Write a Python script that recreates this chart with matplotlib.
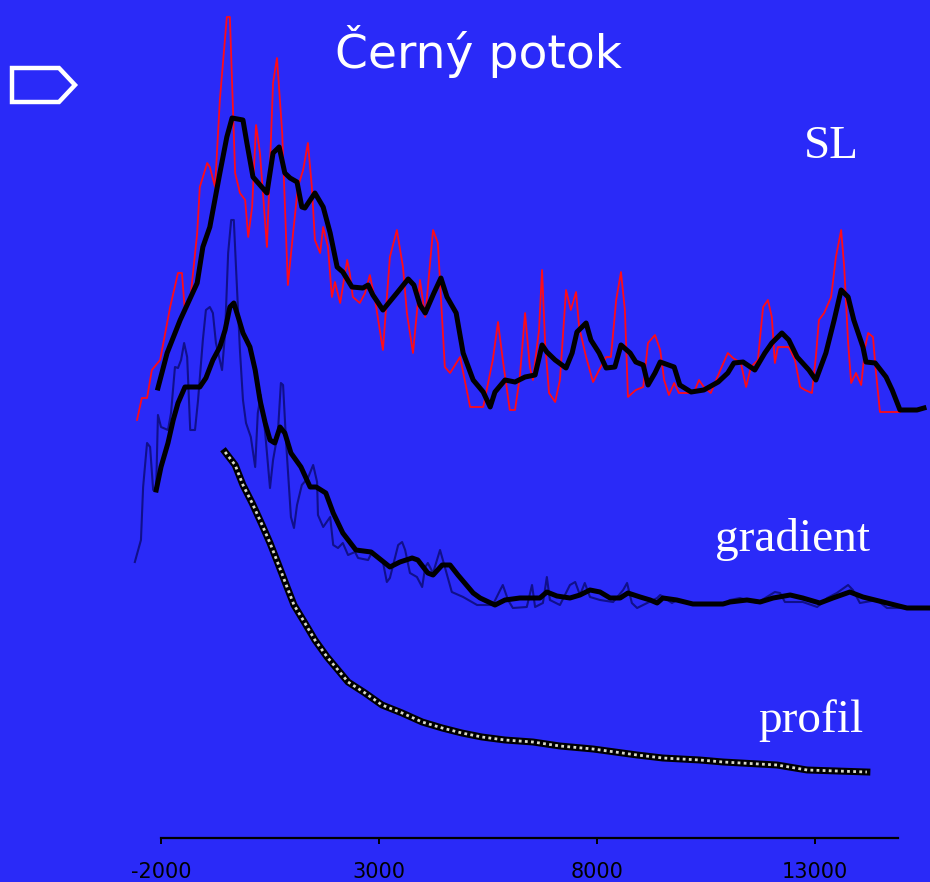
import matplotlib
matplotlib.use("Agg")
import matplotlib.pyplot as plt
from matplotlib.patches import Polygon

# distance along stream (m) and relative values (arbitrary units, offset per curve)
sl_x = [-2550, -2440, -2320, -2210, -2020, -1790, -1610, -1520, -1450, -1330,
        -1170, -1110, -940, -880, -760, -650, -490, -420, -300, -190,
        -70, 0, 90, 180, 270, 430, 570, 660, 780, 910,
        1030, 1140, 1260, 1370, 1460, 1530, 1650, 1720, 1830, 1920,
        1990, 2110, 2270, 2330, 2400, 2560, 2680, 2790, 2910, 3090,
        3250, 3410, 3550, 3640, 3780, 3940, 4060, 4240, 4350, 4510,
        4630, 4860, 5090, 5390, 5610, 5730, 5840, 6000, 6120, 6230,
        6350, 6460, 6530, 6670, 6740, 6810, 6900, 7040, 7150, 7290,
        7400, 7520, 7590, 7750, 7910, 8050, 8210, 8320, 8440, 8550,
        8640, 8710, 8890, 9060, 9170, 9330, 9450, 9540, 9650, 9770,
        9880, 10220, 10340, 10450, 10610, 10800, 11000, 11120, 11300, 11420,
        11530, 11690, 11810, 11920, 12010, 12080, 12150, 12400, 12540, 12660,
        12770, 12930, 13020, 13090, 13210, 13370, 13480, 13600, 13670, 13760,
        13830, 13940, 14060, 14150, 14220, 14330, 14400, 14490, 14950]
sl_y = [418, 440, 440, 468, 478, 531, 565, 565, 526, 538,
        605, 651, 675, 671, 651, 738, 821, 821, 665, 645,
        638, 601, 631, 713, 685, 591, 755, 780, 705, 553,
        605, 651, 668, 695, 651, 598, 585, 611, 591, 541,
        556, 535, 578, 565, 541, 535, 545, 563, 538, 488,
        581, 608, 571, 525, 485, 558, 521, 608, 595, 471,
        465, 481, 431, 431, 478, 516, 478, 428, 428, 461,
        525, 471, 458, 508, 568, 495, 445, 436, 458, 548,
        528, 546, 511, 481, 456, 468, 481, 481, 538, 566,
        528, 441, 448, 451, 495, 503, 488, 458, 443, 455,
        445, 445, 458, 451, 445, 465, 485, 480, 475, 451,
        471, 478, 531, 538, 521, 475, 491, 491, 478, 451,
        448, 445, 481, 518, 525, 541, 581, 608, 571, 495,
        455, 465, 453, 491, 505, 501, 465, 426, 426]

sl_smooth_x = [-2070, -1860, -1560, -1170, -1040, -880, -650, -490, -370, -120,
               -30, 110, 270, 430, 570, 710, 840, 960, 1120, 1230,
               1300, 1530, 1720, 1880, 2040, 2170, 2380, 2630, 2750, 2860,
               3090, 3410, 3670, 3800, 3940, 4060, 4260, 4420, 4560, 4770,
               4930, 5160, 5390, 5550, 5660, 5890, 6120, 6350, 6580, 6740,
               6850, 7040, 7290, 7430, 7540, 7750, 7860, 8050, 8210, 8410,
               8550, 8760, 8890, 9060, 9170, 9330, 9450, 9770, 9900, 10160,
               10450, 10780, 11000, 11140, 11350, 11620, 11850, 12010, 12240, 12400,
               12590, 12860, 13020, 13250, 13440, 13600, 13760, 13890, 14100, 14170,
               14380, 14630, 14770, 14950, 15340, 15500]
sl_smooth_y = [450, 485, 518, 555, 591, 611, 665, 701, 720, 718,
               695, 661, 653, 645, 685, 691, 665, 660, 656, 631,
               630, 645, 631, 605, 571, 566, 551, 550, 553, 543,
               528, 545, 559, 553, 533, 525, 545, 560, 541, 525,
               485, 458, 446, 431, 446, 458, 456, 461, 463, 493,
               486, 478, 470, 485, 506, 515, 498, 485, 470, 471,
               493, 485, 476, 473, 453, 465, 476, 471, 453, 446,
               448, 456, 465, 475, 476, 468, 485, 495, 505, 498,
               481, 468, 458, 485, 518, 548, 541, 518, 491, 476,
               475, 461, 448, 428, 428, 430]

grad_x = [-2600, -2460, -2410, -2320, -2250, -2180, -2110, -2070, -2000, -1840,
          -1770, -1680, -1610, -1540, -1470, -1400, -1330, -1220, -1150, -1040,
          -970, -880, -810, -740, -600, -530, -460, -390, -330, -280,
          -190, -120, -50, 60, 160, 220, 290, 390, 500, 570,
          680, 750, 800, 870, 980, 1050, 1120, 1230, 1370, 1490,
          1580, 1600, 1720, 1880, 1950, 2060, 2170, 2290, 2450, 2520,
          2750, 2840, 3090, 3180, 3250, 3440, 3530, 3600, 3710, 3870,
          3990, 4060, 4120, 4240, 4330, 4400, 4510, 4670, 4930, 5250,
          5610, 5780, 5840, 5960, 6070, 6390, 6510, 6580, 6760, 6850,
          6920, 7150, 7380, 7500, 7610, 7720, 7840, 8070, 8370, 8600,
          8690, 8800, 8920, 9150, 9380, 9450, 9720, 9830, 10200, 10890,
          11050, 11280, 11670, 12080, 12200, 12310, 12720, 13050, 13280, 13500,
          13760, 13870, 14030, 14420, 14650, 15640]
grad_y = [276, 298, 351, 395, 391, 348, 351, 423, 411, 408,
          425, 471, 470, 478, 495, 481, 408, 408, 438, 498,
          528, 531, 525, 495, 468, 505, 585, 618, 618, 571,
          488, 438, 415, 401, 371, 425, 443, 405, 350, 378,
          405, 455, 453, 395, 321, 310, 333, 353, 360, 373,
          356, 323, 311, 321, 293, 290, 295, 283, 286, 280,
          278, 286, 276, 256, 260, 293, 296, 288, 265, 261,
          251, 271, 275, 265, 278, 288, 271, 246, 241, 233,
          233, 248, 253, 238, 230, 231, 253, 231, 235, 261,
          238, 233, 253, 256, 243, 255, 241, 238, 236, 248,
          255, 235, 230, 235, 240, 243, 235, 238, 234, 234,
          238, 240, 235, 246, 245, 236, 236, 231, 240, 245,
          253, 248, 235, 238, 230, 230]

grad_smooth_x = [-2110, -2000, -1840, -1720, -1610, -1450, -1110, -970, -810, -650,
                 -530, -420, -330, -230, -120, 40, 160, 270, 390, 500,
                 610, 730, 840, 980, 1210, 1420, 1560, 1780, 1950, 2170,
                 2470, 2820, 3050, 3250, 3480, 3760, 3890, 4120, 4240, 4450,
                 4630, 4810, 5160, 5320, 5660, 5890, 6230, 6690, 6850, 7080,
                 7380, 7610, 7840, 8070, 8300, 8530, 8710, 8990, 9220, 9380,
                 9510, 9830, 10200, 10890, 11050, 11440, 11740, 12040, 12430, 12720,
                 13110, 13410, 13800, 14100, 14560, 15110, 15640]
grad_smooth_y = [348, 371, 395, 418, 435, 451, 451, 460, 478, 491,
                 508, 531, 535, 521, 505, 491, 468, 438, 415, 398,
                 395, 411, 405, 385, 371, 351, 351, 345, 325, 305,
                 288, 286, 278, 271, 276, 280, 278, 265, 263, 273,
                 273, 263, 245, 240, 233, 238, 240, 240, 246, 242,
                 240, 243, 248, 246, 240, 240, 245, 241, 238, 235,
                 240, 238, 234, 234, 236, 238, 236, 240, 243, 240,
                 235, 240, 246, 241, 236, 230, 230]

prof_x = [-530, -300, -120, 90, 320, 500, 680, 890, 1050, 1300,
          1530, 1810, 2060, 2290, 2680, 3070, 3530, 3990, 4450, 4900,
          5360, 5890, 6530, 7150, 7910, 8920, 9510, 10360, 10890, 12130,
          12820, 14190]
prof_y = [386, 373, 353, 335, 313, 295, 275, 251, 233, 215,
          198, 181, 168, 156, 145, 133, 125, 116, 110, 105,
          101, 98, 96, 92, 89, 83, 80, 78, 76, 73,
          68, 66]

xticks = [-2000, 3000, 8000, 13000]
bg = '#2a2af8'

fig = plt.figure(figsize=(9.3, 8.82), dpi=100, facecolor=bg)
ax = fig.add_axes([161 / 930, 44 / 882, 737 / 930, 838 / 882])
ax.set_facecolor(bg)
ax.set_xlim(-2000, 14904)
ax.set_ylim(0, 838)

ax.plot(sl_x, sl_y, color='#ff0a18', lw=1.3, clip_on=False, zorder=2)
ax.plot(grad_x, grad_y, color='#10108a', lw=1.5, clip_on=False, zorder=2)
ax.plot(sl_smooth_x, sl_smooth_y, color='black', lw=3.6, clip_on=False, zorder=3)
ax.plot(grad_smooth_x, grad_smooth_y, color='black', lw=3.6, clip_on=False, zorder=3)
ax.plot(prof_x, prof_y, color='black', lw=5, clip_on=False, zorder=3)
ax.plot(prof_x, prof_y, color='#d8d8c8', lw=2.0, ls=(0, (1.0, 1.2)),
        clip_on=False, zorder=4)

for s in ['top', 'right', 'left']:
    ax.spines[s].set_visible(False)
ax.spines['bottom'].set_linewidth(1.6)
ax.set_yticks([])
ax.set_xticks(xticks)
ax.set_xticklabels([str(t) for t in xticks],
                   family=['Liberation Sans Narrow', 'DejaVu Sans'], fontsize=15)
ax.tick_params(axis='x', direction='out', length=4, width=1.4, pad=13, colors='black')

fig.text(0.514, 0.923, 'Černý potok', ha='center', va='baseline',
         fontsize=34, color='white', family=['DejaVu Sans'])
serif = ['Liberation Serif', 'DejaVu Serif']
fig.text(0.894, 0.821, 'SL', ha='center', va='baseline', fontsize=34, color='white', family=serif)
fig.text(0.852, 0.375, 'gradient', ha='center', va='baseline', fontsize=34, color='white', family=serif)
fig.text(0.872, 0.170, 'profil', ha='center', va='baseline', fontsize=34, color='white', family=serif)

# arrow-shaped outline in the corner
arrow = Polygon([(12 / 930, 1 - 68 / 882), (59 / 930, 1 - 68 / 882), (75 / 930, 1 - 85 / 882),
                 (59 / 930, 1 - 102 / 882), (12 / 930, 1 - 102 / 882)],
                closed=True, fill=False, edgecolor='white', lw=3.2,
                transform=fig.transFigure, joinstyle='miter')
fig.patches.append(arrow)

fig.savefig('out.png', dpi=100, facecolor=bg)
